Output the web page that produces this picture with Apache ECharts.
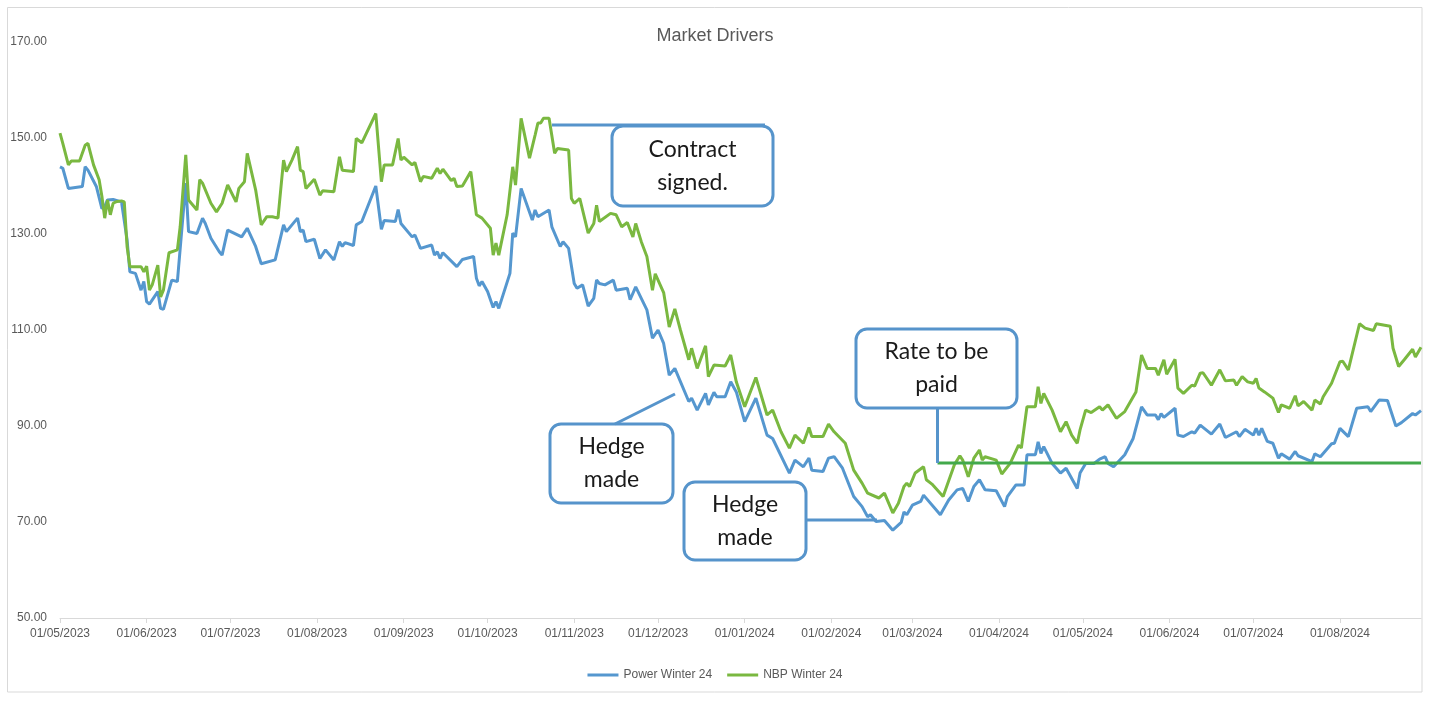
<!DOCTYPE html>
<html lang="en">

<head>
    <meta charset="UTF-8">
    <title>Market Drivers</title>
    <style>
        html, body { margin: 0; padding: 0; background: #fff; }
    </style>
</head>

<body>
    <div id="main" style="width: 1430px; height: 702px"></div>
    <script src="https://cdn.jsdelivr.net/npm/echarts@6/dist/echarts.min.js"></script>
    <script type="text/javascript">
        // day 0 = 01/05/2023
        var startDate = '2023-05-01';
        var endDate = '2024-08-30';

        var nbpDays = [0, 1, 3, 4, 7, 9, 10, 12, 14, 15, 16, 17, 18, 19, 20, 22, 23, 24, 25, 29, 30, 31, 32, 33, 35, 36, 37, 39, 42, 43,
            45, 46, 49, 50, 51, 54, 56, 58, 60, 63, 64, 66, 67, 70, 72, 74, 76, 78, 80, 81, 83, 85, 86, 87, 88, 91, 93, 94, 98,
            100, 101, 105, 106, 108, 113, 115, 116, 119, 121, 122, 123, 126, 127, 129, 130, 133, 135, 136, 137, 140, 141, 142, 144, 147, 149,
            151, 154, 155, 156, 157, 160, 162, 163, 165, 168, 170, 171, 172, 173, 175, 177, 178, 182, 183, 184, 186, 189, 191, 192, 193, 197,
            199, 201, 203, 205, 206, 208, 210, 212, 213, 216, 218, 220, 222, 225, 226, 228, 231, 232, 234, 238, 240, 242, 245, 249, 253, 255,
            258, 261, 263, 266, 268, 269, 273, 275, 277, 281, 284, 287, 289, 293, 295, 298, 300, 302, 303, 304, 305, 306, 309, 310, 312, 316,
            320, 322, 323, 325, 327, 329, 330, 331, 335, 337, 340, 343, 344, 346, 349, 350, 351, 352, 355, 358, 360, 362, 364, 365, 367, 369,
            372, 373, 375, 378, 381, 385, 387, 389, 392, 393, 395, 396, 399, 400, 402, 405, 406, 408, 409, 412, 415, 417, 420, 421, 423, 425,
            427, 428, 429, 431, 434, 436, 437, 440, 442, 443, 445, 448, 449, 451, 452, 455, 458, 459, 461, 465, 467, 470, 471, 476, 477, 479,
            481, 484, 485, 487];
        var nbpValues = [151.0, 148.9, 144.4, 145.2, 145.2, 148.5, 148.9, 144.4, 141.3, 137.8, 133.3, 137.1, 134.0, 136.4, 136.7, 136.9, 136.7, 127.4, 123.2, 123.2, 122.1, 123.3, 118.3, 119.4, 123.5, 116.9, 118.3, 126.1, 126.7, 131.5,
            146.5, 137.1, 135.0, 141.3, 140.6, 136.4, 134.6, 136.4, 140.2, 136.7, 139.5, 140.9, 146.8, 139.2, 131.9, 133.6, 133.6, 133.3, 145.4, 143.0, 145.4, 148.2, 143.3, 143.0, 139.5, 141.4, 138.1, 139.0, 138.8,
            146.1, 143.3, 143.0, 149.9, 149.0, 155.1, 140.9, 144.4, 144.4, 149.9, 145.4, 146.0, 144.4, 144.9, 140.9, 142.0, 141.6, 143.7, 142.6, 143.5, 141.1, 141.6, 139.9, 140.0, 143.0, 134.0,
            133.3, 131.2, 125.6, 128.1, 125.6, 134.0, 144.0, 140.2, 154.1, 145.8, 150.6, 153.1, 153.1, 154.1, 154.1, 146.8, 147.8, 147.5, 137.4, 136.4, 137.4, 130.2, 132.2, 136.0, 132.6, 134.3,
            134.0, 131.5, 132.4, 129.4, 132.2, 128.4, 125.3, 118.3, 121.7, 117.8, 110.6, 114.4, 110.0, 103.8, 106.2, 102.0, 106.7, 100.3, 102.7, 102.5, 104.8, 99.2, 94.0, 100.1, 92.3, 93.3,
            88.8, 85.4, 88.1, 86.4, 89.7, 87.8, 87.8, 90.4, 88.8, 86.4, 80.8, 78.1, 76.0, 75.0, 76.0, 71.9, 73.9, 77.4, 78.1, 77.4, 78.8, 80.2, 81.5, 78.8, 77.9, 75.3,
            81.9, 83.8, 82.9, 79.4, 83.3, 85.0, 82.9, 83.6, 82.9, 80.0, 82.2, 86.0, 85.4, 94.0, 94.0, 98.2, 94.7, 96.8, 93.3, 88.8, 90.9, 88.1, 86.4, 89.2, 93.3, 92.8,
            94.0, 93.3, 94.4, 91.6, 93.0, 97.1, 104.8, 102.0, 102.0, 100.6, 103.8, 100.8, 103.9, 97.9, 96.8, 98.5, 98.3, 101.0, 101.1, 98.5, 101.7, 99.4, 99.6, 98.5, 100.3, 99.2,
            98.9, 99.9, 97.9, 97.1, 95.8, 92.8, 94.4, 93.7, 96.3, 94.2, 95.1, 93.3, 95.4, 94.6, 96.1, 98.9, 103.4, 103.5, 101.7, 111.3, 110.4, 109.9, 111.3, 110.8, 106.2, 102.4,
            103.8, 106.0, 104.4, 106.4];

        var powerDays = [0, 1, 3, 8, 9, 10, 13, 15, 16, 17, 19, 22, 24, 25, 27, 29, 30, 31, 32, 35, 36, 37, 40, 42, 45, 46, 49, 51, 52, 54,
            57, 58, 60, 65, 67, 70, 72, 77, 80, 81, 85, 86, 87, 88, 91, 93, 95, 98, 100, 101, 102, 105, 106, 108, 113, 115, 116, 120, 121, 122,
            126, 127, 129, 133, 134, 135, 136, 137, 142, 144, 148, 149, 150, 151, 153, 155, 156, 157, 161, 162, 163, 165, 169, 170, 171, 175, 176, 179, 180, 182,
            184, 185, 187, 189, 191, 192, 193, 195, 198, 199, 203, 204, 206, 210, 212, 214, 216, 218, 220, 225, 226, 228, 231, 232, 234, 235, 238, 240, 242, 245,
            249, 253, 255, 261, 263, 266, 268, 269, 273, 275, 277, 280, 284, 287, 289, 290, 292, 295, 298, 301, 302, 303, 305, 308, 309, 315, 318, 321, 323, 325,
            327, 329, 331, 335, 338, 339, 342, 345, 346, 349, 350, 351, 352, 355, 358, 360, 364, 365, 367, 370, 372, 374, 375, 377, 381, 384, 387, 389, 392, 393,
            394, 395, 399, 400, 402, 405, 406, 408, 412, 415, 417, 421, 422, 424, 427, 428, 429, 430, 432, 434, 436, 437, 440, 442, 443, 448, 449, 451, 455, 456,
            458, 461, 464, 468, 469, 472, 475, 478, 480, 484, 485, 487];
        var powerValues = [144.0, 143.7, 139.5, 139.9, 144.0, 143.3, 139.9, 135.3, 135.7, 137.1, 137.2, 136.7, 128.8, 122.1, 121.8, 118.3, 120.1, 115.9, 115.4, 118.0, 114.5, 114.3, 120.4, 120.1, 140.6, 130.5, 130.1, 133.3, 132.2, 129.1,
            126.3, 125.6, 130.8, 129.4, 131.2, 127.4, 123.8, 124.6, 131.9, 130.5, 133.3, 130.5, 130.8, 128.4, 128.9, 124.9, 126.7, 124.6, 128.4, 127.4, 128.2, 127.6, 131.9, 132.6, 140.0, 131.0, 132.8, 132.6, 135.1, 132.2,
            129.4, 129.8, 127.0, 127.7, 125.6, 126.3, 124.9, 126.1, 123.2, 124.7, 125.3, 120.8, 119.2, 120.1, 118.0, 114.7, 115.9, 114.5, 121.8, 130.2, 129.4, 139.5, 132.9, 135.0, 133.6, 135.0, 131.5, 127.4, 128.4, 127.0,
            119.7, 118.7, 119.4, 115.0, 116.6, 120.4, 119.7, 119.4, 120.4, 118.3, 118.7, 116.3, 119.0, 114.2, 108.3, 110.0, 107.2, 100.6, 102.0, 95.1, 95.8, 93.3, 96.8, 94.4, 97.0, 96.1, 96.1, 99.2, 97.1, 90.9,
            95.8, 88.1, 87.4, 80.2, 82.9, 81.5, 83.3, 80.8, 80.5, 83.3, 83.6, 81.2, 75.3, 73.2, 71.1, 71.5, 70.1, 70.3, 68.3, 69.9, 72.1, 71.5, 73.5, 74.3, 75.6, 71.5, 74.6, 76.7, 77.0, 74.3,
            77.4, 78.8, 76.7, 76.5, 73.2, 75.3, 77.7, 77.7, 84.0, 84.0, 86.7, 84.3, 85.7, 82.2, 80.2, 81.2, 77.0, 80.2, 82.2, 82.2, 83.1, 83.6, 82.2, 81.5, 84.0, 87.4, 94.0, 92.3, 92.3, 91.3,
            92.6, 91.8, 93.7, 88.1, 87.8, 88.8, 88.5, 90.2, 88.3, 90.4, 87.6, 88.8, 87.8, 89.3, 88.1, 89.5, 88.1, 89.5, 86.8, 86.4, 83.3, 84.2, 83.1, 84.7, 83.8, 82.6, 84.2, 83.6, 86.3, 86.4,
            89.5, 87.8, 93.7, 94.0, 93.0, 95.4, 95.3, 90.0, 90.7, 92.6, 92.3, 93.2];

        // agreed rate, drawn from this day to the end of the axis
        var rateStartDay = 314;
        var rateValue = 82.3;

        var yTicks = [50, 70, 90, 110, 130, 150, 170];

        // one category per calendar day so month ticks land in the right place
        var categories = [];
        var t0 = new Date(startDate + 'T00:00:00Z').getTime();
        var t1 = new Date(endDate + 'T00:00:00Z').getTime();
        for (var t = t0; t <= t1; t += 86400000) {
            categories.push(new Date(t).toISOString().slice(0, 10));
        }

        function pairs(days, vals) {
            return days.map(function(d, i) {
                return [categories[d], vals[i]];
            });
        }

        function isMonthStart(index, value) {
            return value.slice(8) === '01';
        }

        var myChart = echarts.init(document.getElementById('main'));

        var gray = '#595959';
        var blue = '#5597cf';
        var green = '#7ab840';
        var calloutBlue = '#5694cb';

        var option = {
            backgroundColor: '#fff',
            animation: false,
            title: {
                text: 'Market Drivers',
                left: 'center',
                top: 22,
                textStyle: {
                    color: gray,
                    fontSize: 18,
                    fontWeight: 'normal',
                    fontFamily: 'Liberation Sans'
                }
            },
            legend: {
                data: ['Power Winter 24', 'NBP Winter 24'],
                left: 'center',
                top: 664,
                icon: 'rect',
                itemWidth: 31,
                itemHeight: 3,
                itemGap: 15,
                textStyle: {
                    color: gray,
                    fontSize: 12,
                    fontFamily: 'Liberation Sans'
                }
            },
            grid: {
                left: 60,
                right: 9,
                top: 42,
                bottom: 84
            },
            xAxis: {
                type: 'category',
                data: categories,
                boundaryGap: false,
                axisLine: {
                    lineStyle: { color: '#d9d9d9', width: 1 }
                },
                axisTick: {
                    show: true,
                    interval: isMonthStart,
                    length: 5,
                    lineStyle: { color: '#d9d9d9' }
                },
                axisLabel: {
                    interval: isMonthStart,
                    formatter: function(v) {
                        var p = v.split('-');
                        return p[2] + '/' + p[1] + '/' + p[0];
                    },
                    color: gray,
                    fontSize: 12,
                    margin: 10,
                    fontFamily: 'Liberation Sans'
                },
                splitLine: { show: false }
            },
            yAxis: {
                type: 'value',
                min: yTicks[0],
                max: yTicks[yTicks.length - 1],
                interval: 20,
                axisLine: { show: false },
                axisTick: { show: false },
                splitLine: { show: false },
                axisLabel: {
                    formatter: function(v) { return v.toFixed(2); },
                    color: gray,
                    fontSize: 12,
                    margin: 13,
                    fontFamily: 'Liberation Sans'
                }
            },
            series: [{
                    name: 'Power Winter 24',
                    type: 'line',
                    data: pairs(powerDays, powerValues),
                    symbol: 'none',
                    lineStyle: { width: 3, color: blue },
                    itemStyle: { color: blue }
                },
                {
                    name: 'NBP Winter 24',
                    type: 'line',
                    data: pairs(nbpDays, nbpValues),
                    symbol: 'none',
                    lineStyle: { width: 3, color: green },
                    itemStyle: { color: green }
                },
                {
                    name: 'Rate',
                    type: 'line',
                    data: [
                        [categories[rateStartDay], rateValue],
                        [categories[categories.length - 1], rateValue]
                    ],
                    symbol: 'none',
                    lineStyle: { width: 3, color: '#42a94b' },
                    itemStyle: { color: '#42a94b' }
                }
            ]
        };
        myChart.setOption(option);

        // callout boxes sit on top of the plot like the shapes in the original
        function callout(x, y, w, h, text) {
            return {
                type: 'group',
                z: 100,
                children: [{
                        type: 'rect',
                        shape: { x: x, y: y, width: w, height: h, r: 11 },
                        style: { fill: '#fff', stroke: calloutBlue, lineWidth: 3 }
                    },
                    {
                        type: 'text',
                        style: {
                            text: text,
                            x: x + w / 2,
                            y: y + h / 2,
                            align: 'center',
                            verticalAlign: 'middle',
                            fontSize: 23,
                            fontFamily: 'Lato',
                            lineHeight: 33,
                            fill: '#1a1a1a'
                        }
                    }
                ]
            };
        }

        function leader(x1, y1, x2, y2) {
            return {
                type: 'line',
                z: 99,
                shape: { x1: x1, y1: y1, x2: x2, y2: y2 },
                style: { stroke: calloutBlue, lineWidth: 3 }
            };
        }

        var rateAnchor = myChart.convertToPixel({ gridIndex: 0 }, [rateStartDay, rateValue]);

        myChart.setOption({
            graphic: [{
                    type: 'rect',
                    z: -1,
                    silent: true,
                    shape: { x: 7.5, y: 7.5, width: 1414.5, height: 684.5 },
                    style: { fill: 'none', stroke: '#d9d9d9', lineWidth: 1 }
                },
                leader(552, 125, 765, 125),
                callout(612, 126, 161, 80, 'Contract\nsigned.'),
                leader(615, 424, 675, 394),
                callout(550, 424, 123, 79, 'Hedge\nmade'),
                leader(806, 520, 877, 520),
                callout(684, 482, 122, 78, 'Hedge\nmade'),
                leader(rateAnchor[0], 408, rateAnchor[0], rateAnchor[1]),
                callout(856, 329, 161, 79, 'Rate to be\npaid')
            ]
        });

        window.onresize = function() {
            myChart.resize();
        };
    </script>

</body>

</html>
